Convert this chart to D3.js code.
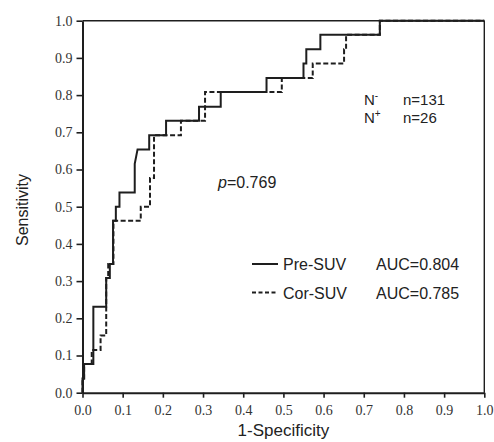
<!DOCTYPE html>
<html><head><meta charset="utf-8">
<script src="https://cdn.jsdelivr.net/npm/d3@7"></script>
<style>body{margin:0;background:#fff}</style>
</head><body><svg id="c" width="494" height="442"></svg>
<script>
const xTicks=[0,0.1,0.2,0.3,0.4,0.5,0.6,0.7,0.8,0.9,1.0];
const yTicks=[0,0.1,0.2,0.3,0.4,0.5,0.6,0.7,0.8,0.9,1.0];
const preFpr=[0,0,0.004,0.004,0.027,0.027,0.059,0.059,0.068,0.068,0.076,0.076,0.083,0.083,0.092,0.092,0.130,0.130,0.137,0.166,0.166,0.208,0.208,0.290,0.290,0.344,0.344,0.458,0.458,0.550,0.550,0.557,0.557,0.592,0.592,0.740,0.740,1.0];
const preSens=[0,0.038,0.038,0.077,0.077,0.231,0.231,0.308,0.308,0.346,0.346,0.462,0.462,0.500,0.500,0.538,0.538,0.615,0.654,0.654,0.692,0.692,0.731,0.731,0.769,0.769,0.808,0.808,0.846,0.846,0.885,0.885,0.923,0.923,0.962,0.962,1.0,1.0];
const corFpr=[0,0,0.004,0.004,0.023,0.023,0.045,0.045,0.059,0.059,0.064,0.064,0.077,0.077,0.145,0.145,0.168,0.168,0.178,0.178,0.245,0.245,0.305,0.305,0.496,0.496,0.573,0.573,0.651,0.651,0.656,0.656,0.740,0.740,1.0];
const corSens=[0,0.038,0.038,0.077,0.077,0.115,0.115,0.154,0.154,0.308,0.308,0.346,0.346,0.462,0.462,0.500,0.500,0.577,0.577,0.692,0.692,0.731,0.731,0.808,0.808,0.846,0.846,0.885,0.885,0.923,0.923,0.962,0.962,1.0,1.0];
const seriesNames=["Pre-SUV","Cor-SUV"];
const aucLabels=["AUC=0.804","AUC=0.785"];
const pLabel="0.769";
const nLabels=[["-","n=131"],["+","n=26"]];

const svg=d3.select("#c");
const m={l:82.5,r:484.3,t:20.7,b:392.7};
const x=d3.scaleLinear().domain([0,1]).range([m.l,m.r]);
const y=d3.scaleLinear().domain([0,1]).range([m.b,m.t]);
const ink="#1e1e1e";
const sans="Arial, 'Liberation Sans', sans-serif";
const serif="'Times New Roman', 'Liberation Serif', serif";

// frame top & right
svg.append("line").attr("x1",m.l).attr("x2",m.r).attr("y1",m.t).attr("y2",m.t).attr("stroke",ink).attr("stroke-width",1.6);
svg.append("line").attr("x1",m.r).attr("x2",m.r).attr("y1",m.t).attr("y2",m.b).attr("stroke",ink).attr("stroke-width",1.4);

const gx=svg.append("g").attr("transform",`translate(0,${m.b})`)
  .call(d3.axisBottom(x).tickValues(xTicks).tickFormat(d3.format(".1f")).tickSize(5).tickSizeOuter(0));
const gy=svg.append("g").attr("transform",`translate(${m.l},0)`)
  .call(d3.axisLeft(y).tickValues(yTicks).tickFormat(d3.format(".1f")).tickSize(6).tickSizeOuter(0));
[gx,gy].forEach(g=>{
  g.select(".domain").attr("stroke",ink).attr("stroke-width",2);
  g.selectAll(".tick line").attr("stroke",ink).attr("stroke-width",1.6);
  g.selectAll(".tick text").attr("fill","#333").style("font-family",serif).style("font-size","14px");
});
gx.selectAll(".tick text").attr("dy","0").attr("y",22);
gy.selectAll(".tick text").attr("x",-10);

const line=d3.line().x(d=>x(d[0])).y(d=>y(d[1]));
const pre=preFpr.map((f,i)=>[f,preSens[i]]);
const cor=corFpr.map((f,i)=>[f,corSens[i]]);
svg.append("path").attr("d",line(cor)).attr("fill","none").attr("stroke",ink).attr("stroke-width",2).attr("stroke-dasharray","5,2.5");
svg.append("path").attr("d",line(pre)).attr("fill","none").attr("stroke",ink).attr("stroke-width",2);

// axis titles
svg.append("text").attr("x",(m.l+m.r)/2).attr("y",436).attr("text-anchor","middle")
  .style("font-family",sans).style("font-size","17px").attr("fill","#222").text("1-Specificity");
svg.append("text").attr("transform","translate(28,210) rotate(-90)").attr("text-anchor","middle")
  .style("font-family",sans).style("font-size","16px").attr("fill","#222").text("Sensitivity");

// p value
const pt=svg.append("text").attr("x",218).attr("y",188).style("font-family",sans).style("font-size","16px").attr("fill","#222");
pt.append("tspan").style("font-style","italic").text("p");
pt.append("tspan").text("="+pLabel);

// N labels
nLabels.forEach((d,i)=>{
  const yy=105+i*17.5;
  const t=svg.append("text").attr("x",364).attr("y",yy).style("font-family",sans).style("font-size","15px").attr("fill","#222");
  t.append("tspan").text("N");
  t.append("tspan").attr("dy",-6).style("font-size","10px").text(d[0]);
  svg.append("text").attr("x",403).attr("y",yy).style("font-family",sans).style("font-size","15px").attr("fill","#222").text(d[1]);
});

// legend
seriesNames.forEach((s,i)=>{
  const yy=270+i*28.6;
  svg.append("line").attr("x1",252).attr("x2",278).attr("y1",yy-6).attr("y2",yy-6).attr("stroke",ink).attr("stroke-width",2)
    .attr("stroke-dasharray",i===1?"4,2.5":null);
  svg.append("text").attr("x",283).attr("y",yy).style("font-family",sans).style("font-size","16px").attr("fill","#222").text(s);
  svg.append("text").attr("x",376).attr("y",yy).style("font-family",sans).style("font-size","16px").attr("fill","#222").text(aucLabels[i]);
});
</script></body></html>
